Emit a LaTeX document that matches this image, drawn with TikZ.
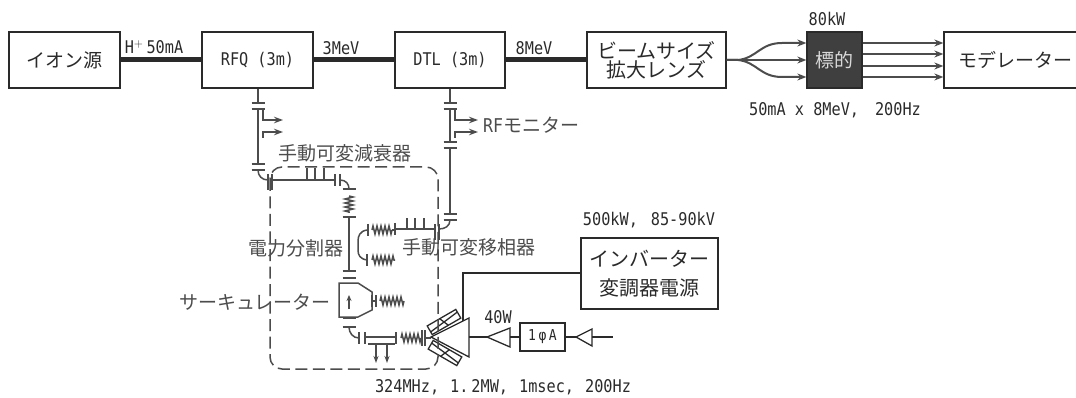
\documentclass[tikz,border=0pt]{standalone}
\usepackage{fontspec}
\setmainfont{Noto Sans CJK JP}
\newfontfamily\latinfont[FakeStretch=0.87]{DejaVu Sans Mono}
\usetikzlibrary{arrows.meta,positioning,decorations.pathmorphing}
\definecolor{ink}{HTML}{2A2A2A}
\definecolor{wave}{HTML}{4C4C4C}
\tikzset{
  block/.style={draw=ink,line width=1.3pt,minimum height=56pt,inner sep=0pt,text=ink,font=\fontsize{19}{19}\selectfont},
  beam/.style={draw=ink,line width=5pt},
  ray/.style={draw=wave,line width=2pt,-{Stealth[length=9pt,width=7pt]}},
  wg/.style={draw=wave,line width=1.5pt},
  tap/.style={wg,-{Stealth[length=9pt,width=6.5pt]}},
  coil/.style={wg,decorate,decoration={zigzag,segment length=4pt,amplitude=4pt}},
  wire/.style={draw=ink,line width=1.3pt},
  latin/.style={text=ink,inner sep=0pt,font=\latinfont\fontsize{17.5}{17.5}\selectfont},
  jp/.style={text=wave,inner sep=0pt,font=\fontsize{19}{19}\selectfont},
  tube/.style={draw=ink,line width=1.3pt,minimum width=33pt,minimum height=10pt,inner sep=0pt},
  crossed/.style={path picture={\draw[wire] (path picture bounding box.south west) -- (path picture bounding box.north east) (path picture bounding box.north west) -- (path picture bounding box.south east);}},
}
\begin{document}
\begin{tikzpicture}[>=Stealth,x=1pt,y=-1pt]
    \useasboundingbox (0,0) rectangle (1076,398);

    % beam line
    \node[block,minimum width=111pt] (ion) at (64.5,60) {イオン源};
    \node[block,minimum width=111pt,font=\latinfont\fontsize{17.5}{17.5}\selectfont] (rfq) at (257.5,60) {RFQ (3m)};
    \node[block,minimum width=110pt,font=\latinfont\fontsize{17.5}{17.5}\selectfont] (dtl) at (450,60) {DTL (3m)};
    \node[block,minimum width=139pt,align=center,font=\fontsize{20}{20}\selectfont] (lens) at (656.5,60) {ビームサイズ\\[-1pt]拡大レンズ};
    \node[block,minimum width=55pt,fill=ink!90,text=white!85!black] (target) at (834.5,60) {標的};
    \node[block,minimum width=142pt] (mod) at (1015,60) {モデレーター};

    \draw[beam] (ion) -- (rfq);
    \draw[beam] (rfq) -- (dtl);
    \draw[beam] (dtl) -- (lens);

    \node[latin] (hplus) at (154,47) {H$^{+}$\,50mA};
    \node[latin] (e3) at (341,48) {3MeV};
    \node[latin] (e8) at (534,48) {8MeV};
    \node[latin] (pw) at (827,19) {80kW};
    \node[latin] (cond) at (835,110) {50mA x 8MeV,\hspace{16pt}200Hz};

    \coordinate (fan) at (738,60);
    \draw[ray] (lens.east) -- (target.west);
    \draw[ray] (lens.east) -- (fan) .. controls (757,58) and (760,43) .. (782,43) -- (target.west |- 0,43);
    \draw[ray] (lens.east) -- (fan) .. controls (757,62) and (760,77) .. (782,77) -- (target.west |- 0,77);
    \foreach \y in {43,54,66,77}
        \draw[ray] (target.east |- 0,\y) -- (mod.west |- 0,\y);

    % flanges across the guides
    \foreach \x/\y in {258/103,258/109,258/164,258/170,450/103,450/109,450/142,450/148,450/214,450/220,349/189,349/217,349/271,349/278,349/318,349/327}
        \draw[wg] (\x-6.5,\y) -- (\x+6.5,\y);
    \foreach \x/\y/\h in {268/182/8,272/182/8,335/180/6,340/180/6,435/232/8,439/232/8,395/229/6,368/230/6,367/260/6,372/301/6,376/301/6,359/338/6,365/338/6,396/338/6,422/338/8,425/338/8}
        \draw[wg] (\x,\y-\h) -- (\x,\y+\h);

    % left guide
    \draw[wg] (rfq.south -| 258,88) -- (258,103);
    \draw[wg] (258,109) -- (258,164);
    \draw[wg] (258,170) .. controls (258,176) and (262,180) .. (268,180);
    \draw[wg] (272,180) -- (335,180);
    \foreach \x in {307,315,324} \draw[wg] (\x,180) -- (\x,168);
    \draw[wg] (340,180) .. controls (346,180) and (349,184) .. (349,189);
    \draw[coil] (349,196) -- (349,213);
    \draw[wg] (349,217) -- (349,271);
    \draw[tap] (263,109) -- (263,120) -- (283,120);
    \draw[tap] (263,138) -- (263,132) -- (283,132);

    % right guide
    \draw[wg] (dtl.south) -- (450,103);
    \draw[wg] (450,109) -- (450,142);
    \draw[wg] (450,148) -- (450,214);
    \draw[wg] (450,220) .. controls (450,226) and (445,229) .. (439,229);
    \draw[wg] (435,229) -- (395,229);
    \foreach \x in {407,415,424} \draw[wg] (\x,229) -- (\x,218);
    \draw[tap] (455,109) -- (455,120) -- (478,120);
    \draw[tap] (455,138) -- (455,132) -- (478,132);
    \node[jp,anchor=west] (mon) at (483,125) {{\latinfont RF}モニター};

    % splitter loads
    \draw[coil] (372,230) -- (392,230);
    \draw[wg] (392,230) -- (395,230);
    \draw[coil] (372,260) -- (395,260);
    \draw[wg] (367,230) .. controls (360,231) and (358,236) .. (358,241) -- (358,250) .. controls (358,255) and (360,259) .. (367,260);

    % circulator
    \draw[wg] (339,283) -- (358,283) -- (372,292) -- (372,310) -- (358,317) -- (339,317) -- cycle;
    \draw[wg,-{Stealth[length=6pt,width=5pt]}] (349,309) -- (349,295);
    \draw[wg] (372,301) -- (376,301);
    \draw[coil] (380,301) -- (404,301);

    % lower run to the klystron
    \draw[wg] (349,327) .. controls (349,333) and (353,338) .. (359,338);
    \draw[wg] (365,337) -- (396,337);
    \draw[wg] (368,344) -- (395,344);
    \draw[wg,-{Stealth[length=7pt,width=5pt]}] (376,344) -- (376,363);
    \draw[wg,-{Stealth[length=7pt,width=5pt]}] (387,344) -- (387,363);
    \draw[coil] (401,338) -- (421,338);
    \draw[wg] (425,338) -- (431,338);

    % klystron and drive chain
    \coordinate (kapex) at (431,337);
    \coordinate (ktop) at (469,318);
    \coordinate (kbot) at (469,357);
    \draw[wire] (kapex) -- (ktop) -- (kbot) -- cycle;
    \node[tube,crossed,rotate=30] (tubea) at (444,322) {};
    \node[tube,crossed,rotate=-30] (tubeb) at (445,353) {};

    \node[block,minimum width=137pt,minimum height=71pt,align=center,font=\fontsize{20}{20}\selectfont] (inv) at (649.5,273.5) {インバーター\\[9pt]変調器電源};
    \coordinate (ktap) at (463,321);
    \draw[wire] (ktap) -- (463,273) -- (inv.west |- 0,273);
    \node[latin] (ppw) at (649,220) {500kW,\hspace{13pt}85-90kV};

    \coordinate (drvapex) at (487,337);
    \coordinate (drvtop) at (510,328);
    \coordinate (drvbot) at (510,347);
    \draw[wire] (drvapex) -- (drvtop) -- (drvbot) -- cycle;
    \coordinate (preapex) at (576,337);
    \coordinate (pretop) at (592,329);
    \coordinate (prebot) at (592,346);
    \draw[wire] (preapex) -- (pretop) -- (prebot) -- cycle;
    \node[block,minimum width=45pt,minimum height=28pt,font=\latinfont\fontsize{15}{15}\selectfont] (phase) at (542.5,337) {1\,φ\,A};
    \coordinate (rfin) at (613,337);
    \draw[wire] (469,337) -- (drvapex);
    \draw[wire] (510,337) -- (phase.west);
    \draw[wire] (phase.east) -- (preapex);
    \draw[wire] (592,337) -- (rfin);
    \node[latin] (p40) at (498,317) {40W};
    \node[latin] (rfspec) at (503,387) {324MHz,\hspace{11pt}1.\,2MW,\hspace{11pt}1msec,\hspace{11pt}200Hz};

    % rf unit outline
    \draw[wave,line width=1.5pt,dash pattern=on 12pt off 5.5pt,rounded corners=12pt] (270,167) rectangle (438,369);

    \node[jp] (att) at (345,153) {手動可変減衰器};
    \node[jp] (split) at (295.5,248) {電力分割器};
    \node[jp] (phs) at (468.5,247) {手動可変移相器};
    \node[jp] (circ) at (255,302) {サーキュレーター};
\end{tikzpicture}
\end{document}
